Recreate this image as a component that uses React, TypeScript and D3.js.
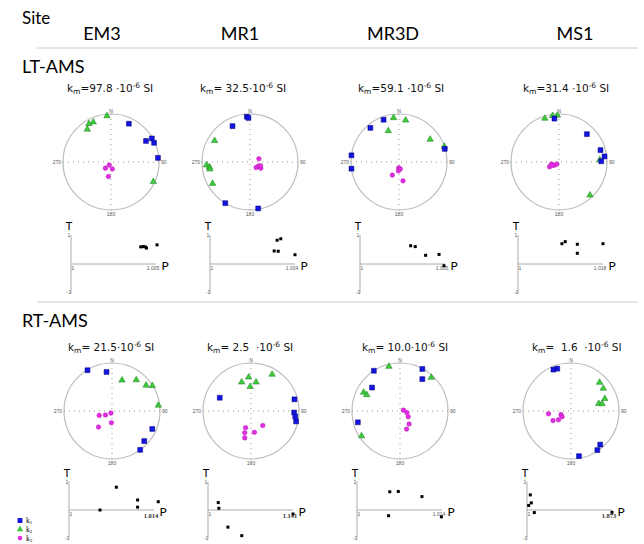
import * as d3 from "d3";

const sites = ["EM3", "MR1", "MR3D", "MS1"];
const ltKm = ["=97.8 \u00b710", "= 32.5\u00b710", "=59.1 \u00b710", "=31.4 \u00b710"];
const rtKm = ["= 21.5\u00b710", "= 2.5  \u00b710", "= 10.0\u00b710", "=  1.6  \u00b710"];

// principal axes, [declination, inclination] per site
const ltK1 = [
  [[25, 13], [60, 2], [59, 16], [66, 2], [85, 2]],
  [[356, 6], [358, 9], [334, 18], [211, 0], [170, 2]],
  [[340, 7], [320, 8], [278, 0], [262, 0], [74, 1]],
  [[354, 10], [45, 19], [74, 11], [83, 5], [89, 13]],
];
const ltK2 = [
  [[355, 4], [330, 9], [336, 10], [324, 17], [115, 3]],
  [[301, 15], [266, 10], [263, 16], [260, 16], [240, 11]],
  [[353, 8], [9, 13], [341, 32], [54, 21], [71, 0]],
  [[342, 5], [352, 3], [358, 3], [87, 16], [137, 6]],
];
const ltK3 = [
  [[209, 84], [222, 76], [169, 78], [190, 65]],
  [[70, 74], [132, 76], [115, 74], [120, 69], [110, 71]],
  [[183, 80], [169, 78], [184, 75], [207, 65], [168, 57]],
  [[255, 77], [243, 72], [236, 80], [225, 85], [245, 76]],
];
const rtK1 = [
  [[329, 1], [352, 19], [114, 9], [133, 9], [144, 0]],
  [[293, 30], [75, 7], [92, 11], [97, 8], [103, 4]],
  [[327, 0], [28, 1], [35, 20], [310, 25], [255, 10]],
  [[337, 7], [342, 8], [139, 8], [146, 2], [170, 5]],
];
const rtK2 = [
  [[18, 33], [38, 19], [53, 12], [58, 1], [83, 3]],
  [[356, 30], [342, 37], [10, 39], [358, 48], [30, 13]],
  [[346, 5], [43, 5], [297, 16], [296, 24], [237, 5]],
  [[45, 17], [55, 19], [70, 26], [75, 40], [77, 34]],
];
const rtK3 = [
  [[251, 67], [239, 77], [207, 86], [220, 54], [183, 70]],
  [[198, 60], [196, 51], [193, 42], [171, 53], [141, 58]],
  [[77, 84], [103, 78], [125, 73], [145, 63], [160, 57]],
  [[263, 51], [242, 55], [235, 64], [250, 72], [237, 72]],
];

// Jelinek plots
const ltP = [
  [1.0041, 1.00425, 1.00437, 1.00444, 1.00506],
  [1.00316, 1.00333, 1.00302, 1.00321, 1.004],
  [1.00298, 1.00325, 1.00386, 1.00465, 1.00494],
  [1.0093, 1.01, 1.01256, 1.01256, 1.018],
];
const ltT = [
  [0.59, 0.6, 0.59, 0.55, 0.66],
  [0.82, 0.87, 0.45, 0.44, 0.32],
  [0.63, 0.6, 0.3, 0.33, -0.06],
  [0.7, 0.77, 0.68, 0.37, 0.7],
];
const ltPmax = ["1.005", "1.004", "1.005", "1.018"];
const rtP = [
  [1.0051, 1.0078, 1.0113, 1.0113, 1.0147],
  [1.017, 1.018, 1.033, 1.056, 1.141],
  [1.0054, 1.0068, 1.0107, 1.0052, 1.0139],
  [1.017, 1.034, 1.044, 1.075, 1.873],
];
const rtT = [
  [0, 0.8, 0.35, 0.1, 0.29],
  [0.26, 0.06, -0.6, -0.9, -0.14],
  [0.64, 0.65, 0.47, -0.2, -0.24],
  [0.16, 0.53, 0.25, -0.09, -0.08],
];
const rtPmax = ["1.014", "1.141", "1.014", "1.873"];
const legendLabels = ["1", "2", "3"];

// layout
const headerX = [102, 240, 393, 575];
const ltKmX = [67, 200, 358, 523];
const rtKmX = [68, 207, 362, 532];
const ltNetX = [111, 250, 399, 559];
const rtNetX = [112, 251, 400, 571];
const ltTpX = [71, 210, 360, 518];
const rtTpX = [69, 208, 357, 527];
const rtBold = [true, true, false, true];

const C1 = "#1414e0";
const C2 = "#3ccc3c";
const C3 = "#e02ee0";
const sans = "Lato, 'Liberation Sans', sans-serif";
const km = "'DejaVu Sans', Verdana, sans-serif";

const sq = d3.symbol(d3.symbolSquare, 24)();
const tri = d3.symbol(d3.symbolTriangle, 18)();
const dot = d3.symbol(d3.symbolCircle, 17)();

function project(d: number[], R: number) {
  const rad = Math.PI / 180;
  const r = R * Math.SQRT2 * Math.sin(((90 - d[1]) / 2) * rad);
  return [r * Math.sin(d[0] * rad), -r * Math.cos(d[0] * rad)];
}

function Net({ cx, cy, k1, k2, k3 }: any) {
  const R = 48;
  const tick = { fontFamily: "Arial, sans-serif", fontSize: 5, fill: "#555" };
  return (
    <g transform={`translate(${cx},${cy})`}>
      <circle r={R} fill="none" stroke="#bdbdbd" strokeWidth={1.2} />
      <line x1={-R} x2={R} stroke="#9a9a9a" strokeWidth={1} strokeDasharray="1,4" />
      <line y1={-R} y2={R} stroke="#9a9a9a" strokeWidth={1} strokeDasharray="1,4" />
      <text {...tick} y={-R - 1.5} textAnchor="middle">N</text>
      <text {...tick} x={R + 2} y={1.8}>90</text>
      <text {...tick} x={-R - 2} y={1.8} textAnchor="end">270</text>
      <text {...tick} y={R + 6} textAnchor="middle">180</text>
      {k3.map((d: number[], i: number) => {
        const [x, y] = project(d, R);
        return <path key={"c" + i} d={dot} transform={`translate(${x},${y})`} fill={C3} stroke="#b010b0" strokeWidth={0.4} />;
      })}
      {k2.map((d: number[], i: number) => {
        const [x, y] = project(d, R);
        return <path key={"t" + i} d={tri} transform={`translate(${x},${y})`} fill={C2} stroke="#1c7a1c" strokeWidth={0.5} />;
      })}
      {k1.map((d: number[], i: number) => {
        const [x, y] = project(d, R);
        return <path key={"s" + i} d={sq} transform={`translate(${x},${y})`} fill={C1} stroke="#00007a" strokeWidth={0.5} />;
      })}
    </g>
  );
}

function TP({ vx, y0, h, label, P, T, bold }: any) {
  const w = 85;
  const x = d3.scaleLinear().domain([1, +label]).range([vx, vx + w]);
  const y = d3.scaleLinear().domain([-1, 1]).range([y0 + h, y0 - h]);
  const tiny = { fontFamily: "Arial, sans-serif", fontSize: 5, fill: "#555" };
  return (
    <g>
      <line x1={vx} x2={vx} y1={y(1)} y2={y(-1)} stroke="#aaa" strokeWidth={1} />
      <line x1={vx} x2={vx + w} y1={y(0)} y2={y(0)} stroke="#aaa" strokeWidth={1} />
      <text x={vx - 2} y={y(1) - 5} fontFamily={sans} fontSize={11} textAnchor="middle">T</text>
      <text x={vx + w + 9} y={y(0) + 6} fontFamily={sans} fontSize={12} textAnchor="middle">P</text>
      <text {...tiny} x={vx - 2} y={y(1) + 2} textAnchor="middle">1</text>
      <text {...tiny} x={vx - 2} y={y(-1) + 1} textAnchor="middle">-1</text>
      <text {...tiny} x={vx + 2} y={y(0) + 6} textAnchor="middle">1</text>
      {bold ? (
        <text x={vx + w - 3} y={y(0) + 8} fontFamily="'Liberation Serif', serif" fontWeight="bold" fontSize={6.5} textAnchor="middle" fill="#333">{label}</text>
      ) : (
        <text {...tiny} x={vx + w - 3} y={y(0) + 6} textAnchor="middle">{label}</text>
      )}
      {P.map((p: number, i: number) => (
        <rect key={i} x={x(p) - 1.5} y={y(T[i]) - 1.5} width={3} height={3} fill="#000" />
      ))}
    </g>
  );
}

function Km({ x, y, text }: any) {
  return (
    <text x={x} y={y} fontFamily={km} fontSize={10.5} fill="#111" style={{ whiteSpace: "pre" }}>
      k<tspan fontSize={7.5} dy={2}>m</tspan>
      <tspan dy={-2}>{text}</tspan>
      <tspan fontSize={7.5} dy={-4}>-6</tspan>
      <tspan dy={4}> SI</tspan>
    </text>
  );
}

export default function App() {
  return (
    <svg width={644} height={544} style={{ position: "absolute", left: 0, top: 0, background: "#fff" }}>
      <text x={22} y={24} fontFamily={sans} fontSize={17}>Site</text>
      {sites.map((s, i) => (
        <text key={s} x={headerX[i]} y={40} fontFamily={sans} fontSize={18} textAnchor="middle">{s}</text>
      ))}
      <line x1={37} x2={638} y1={48} y2={48} stroke="#ccc" strokeWidth={1} />
      <text x={22} y={73} fontFamily={sans} fontSize={18}>LT-AMS</text>
      {sites.map((s, i) => (
        <g key={"lt" + s}>
          <Km x={ltKmX[i]} y={92} text={ltKm[i]} />
          <Net cx={ltNetX[i]} cy={162} k1={ltK1[i]} k2={ltK2[i]} k3={ltK3[i]} />
          <TP vx={ltTpX[i]} y0={264} h={29} label={ltPmax[i]} P={ltP[i]} T={ltT[i]} bold={false} />
        </g>
      ))}
      <line x1={37} x2={638} y1={302} y2={302} stroke="#ccc" strokeWidth={1} />
      <text x={22} y={327} fontFamily={sans} fontSize={18}>RT-AMS</text>
      {sites.map((s, i) => (
        <g key={"rt" + s}>
          <Km x={rtKmX[i]} y={351} text={rtKm[i]} />
          <Net cx={rtNetX[i]} cy={411} k1={rtK1[i]} k2={rtK2[i]} k3={rtK3[i]} />
          <TP vx={rtTpX[i]} y0={510} h={28.5} label={rtPmax[i]} P={rtP[i]} T={rtT[i]} bold={rtBold[i]} />
        </g>
      ))}
      {[sq, tri, dot].map((d, i) => (
        <g key={"lg" + i} transform={`translate(20,${520.5 + i * 8.8})`}>
          <path d={d} fill={[C1, C2, C3][i]} />
          <text x={6} y={2.8} fontFamily="'Liberation Serif', serif" fontSize={7.5}>
            k<tspan fontSize={5} dy={1}>{legendLabels[i]}</tspan>
          </text>
        </g>
      ))}
    </svg>
  );
}
